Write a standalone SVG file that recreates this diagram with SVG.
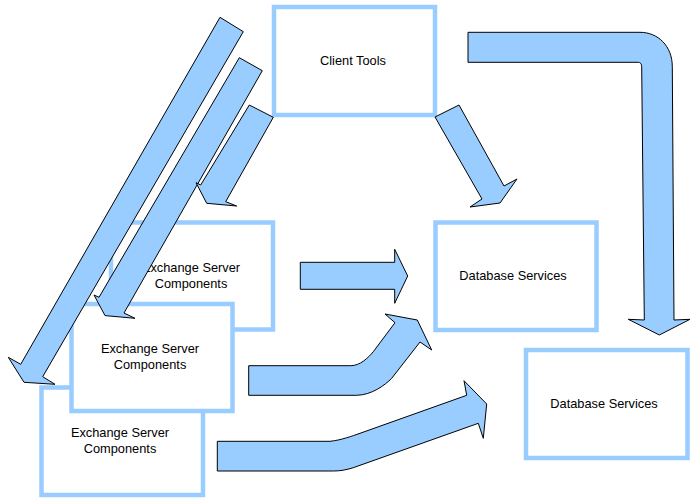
<svg xmlns="http://www.w3.org/2000/svg" width="694" height="503" viewBox="0 0 694 503">
<style>
.box{fill:#ffffff;stroke:#99ccff;stroke-width:4.5}
.lbl{font-family:"Liberation Sans",Arial,sans-serif;font-size:12.8px;fill:#000000;text-anchor:middle}
.arr{fill:#99ccff;stroke:#000000;stroke-width:1;stroke-linejoin:miter}
</style>
<rect width="694" height="503" fill="#ffffff"/>
<g id="client-tools">
<rect class="box" x="274" y="7" width="161" height="108"/>
<text class="lbl" x="353" y="65">Client Tools</text>
</g>
<g id="exchange-1">
<rect class="box" x="111" y="222.5" width="162" height="107"/>
<text class="lbl" x="191" y="272">Exchange Server</text>
<text class="lbl" x="191" y="288">Components</text>
</g>
<g id="exchange-3">
<rect class="box" x="41.5" y="387.5" width="161.5" height="107.5"/>
<text class="lbl" x="120" y="437">Exchange Server</text>
<text class="lbl" x="120" y="453">Components</text>
</g>
<g id="exchange-2">
<rect class="box" x="71.5" y="304" width="161" height="107"/>
<text class="lbl" x="150" y="353">Exchange Server</text>
<text class="lbl" x="150" y="369">Components</text>
</g>
<g id="database-1">
<rect class="box" x="435.5" y="222.5" width="161" height="107.5"/>
<text class="lbl" x="513" y="280">Database Services</text>
</g>
<g id="database-2">
<rect class="box" x="526" y="350" width="161.5" height="108"/>
<text class="lbl" x="604" y="408">Database Services</text>
</g>
<g id="connectors">
<polygon class="arr" points="220,17.3 243.3,31.7 42.7,376.7 55,384.3 24,382.3 8.3,357.3 20.7,364.3"/>
<polygon class="arr" points="239.3,57.7 262.3,70.7 124,313 135,318.3 105,315.6 94,295 99,297.3"/>
<polygon class="arr" points="249.3,105 273.3,117.3 225.7,201.7 236.7,206 206.7,203.3 196,182.7 200.7,185"/>
<polygon class="arr" points="435,117 459,105 504,186 517,179 500,203 470,207 482,199"/>
<path class="arr" d="M468,32.3 L640,32.3 C658,32.3 672.3,46 672.3,66.7 L674,320 L690,319.3 L659.3,335 L628.3,319.3 L644.3,320 L641.7,66.7 C641.7,64 640.5,62.3 638.3,62.3 L468,62.3 Z"/>
<polygon class="arr" points="300.3,262.3 394.7,262.3 394.7,249.3 407.7,276 394.7,303.3 394.7,289.3 300.3,289.3"/>
<path class="arr" d="M248.7,365.7 L350.7,365.7 C360,365.7 368,358 373.3,351.7 L395,322.7 L385,314 L417.3,320 L431.7,350 L420,342 L391.7,378.3 C385,385 372,395 356.7,395.3 L248.7,395.3 Z"/>
<path class="arr" d="M217.3,441.3 L330,441.3 C342,440 352,436 360,433.3 L466.7,395.3 L464,380.7 L486.7,404 L483.3,438.3 L478.3,423.3 L353.3,467.7 C346,470 340,471 333.3,471 L217.3,471 Z"/>
</g>
</svg>
